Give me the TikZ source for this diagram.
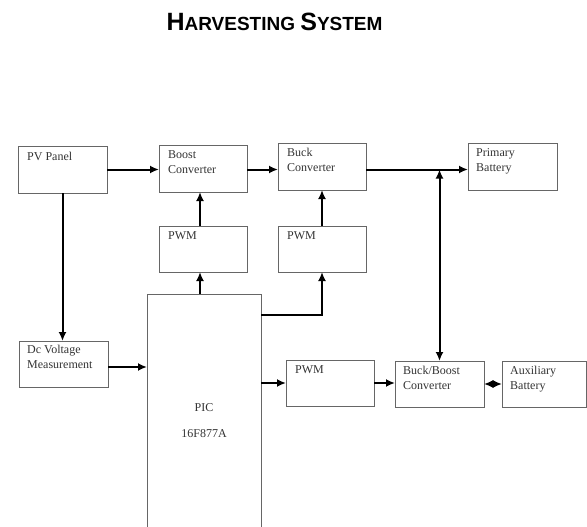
\documentclass[tikz,border=0pt]{standalone}
\usepackage{fontspec}
\setmainfont{Liberation Serif}
\newfontfamily\titlefont{Liberation Sans}
\usetikzlibrary{arrows.meta}
\definecolor{boxgray}{HTML}{666666}
\tikzset{
  blk/.style={draw=boxgray, line width=1pt, rectangle, anchor=north west, inner sep=0pt, outer sep=0pt},
  lbl/.style={anchor=north west, inner sep=0pt, align=left, font=\fontsize{12}{15}\selectfont, text=black!80},
  conn/.style={line width=2pt, -{Latex[length=9pt,width=8pt]}},
  conn2/.style={line width=2pt, {Latex[length=9pt,width=8pt]}-{Latex[length=9pt,width=8pt]}},
}
\begin{document}
\begin{tikzpicture}[x=1pt,y=-1pt]
\useasboundingbox (0,0) rectangle (587,527);
\clip (0,0) rectangle (587,527);
% title
\node[anchor=base, inner sep=0pt, font=\titlefont\bfseries] (title) at (274.5,31)
  {\fontsize{25}{25}\selectfont H\fontsize{19}{19}\selectfont ARVESTING \fontsize{25}{25}\selectfont S\fontsize{19}{19}\selectfont YSTEM};
% boxes
\node[blk, minimum width=89pt, minimum height=47pt] (pv) at (18,146) {};
\node[lbl] (pvl) at ([xshift=9pt,yshift=-6pt]pv.north west) {PV Panel};
\node[blk, minimum width=88pt, minimum height=47pt] (boost) at (159,145) {};
\node[lbl] (boostl) at ([xshift=9pt,yshift=-5pt]boost.north west) {Boost\\Converter};
\node[blk, minimum width=88pt, minimum height=47pt] (buck) at (278,143) {};
\node[lbl] (buckl) at ([xshift=9pt,yshift=-5pt]buck.north west) {Buck\\Converter};
\node[blk, minimum width=89pt, minimum height=47pt] (pb) at (468,143) {};
\node[lbl] (pbl) at ([xshift=8pt,yshift=-5pt]pb.north west) {Primary\\Battery};
\node[blk, minimum width=88pt, minimum height=46pt] (pwma) at (159,226) {};
\node[lbl] (pwmal) at ([xshift=9pt,yshift=-5pt]pwma.north west) {PWM};
\node[blk, minimum width=88pt, minimum height=46pt] (pwmb) at (278,226) {};
\node[lbl] (pwmbl) at ([xshift=9pt,yshift=-5pt]pwmb.north west) {PWM};
\node[blk, minimum width=114pt, minimum height=250pt] (pic) at (147,294) {};
\node[anchor=base, inner sep=0pt, font=\fontsize{12}{15}\selectfont, text=black!80] (picl1) at (204,411) {PIC};
\node[anchor=base, inner sep=0pt, font=\fontsize{12}{15}\selectfont, text=black!80] (picl2) at (204,437) {16F877A};
\node[blk, minimum width=89pt, minimum height=46pt] (dc) at (19,341) {};
\node[lbl] (dcl) at ([xshift=8pt,yshift=-4pt]dc.north west) {Dc Voltage\\Measurement};
\node[blk, minimum width=88pt, minimum height=46pt] (pwmc) at (286,360) {};
\node[lbl] (pwmcl) at ([xshift=9pt,yshift=-5pt]pwmc.north west) {PWM};
\node[blk, minimum width=89pt, minimum height=46pt] (bb) at (395,361) {};
\node[lbl] (bbl) at ([xshift=8pt,yshift=-5pt]bb.north west) {Buck/Boost\\Converter};
\node[blk, minimum width=84pt, minimum height=46pt] (aux) at (502,361) {};
\node[lbl] (auxl) at ([xshift=8pt,yshift=-5pt]aux.north west) {Auxiliary\\Battery};
% connectors
\coordinate (jn) at ([yshift=-3pt]buck.east -| bb.north);
\draw[conn] (pv.east) -- (pv.east -| boost.west);
\draw[conn] ([yshift=-1pt]boost.east) -- ([yshift=-1pt]boost.east -| buck.west);
\draw[conn] ([yshift=-3pt]buck.east) -- ([yshift=-3pt]buck.east -| pb.west);
\draw[conn2] (bb.north) -- (jn);
\draw[conn] ([xshift=-3pt]pwma.north) -- ([xshift=-3pt]pwma.north |- boost.south);
\draw[conn] ([xshift=-3pt]pwma.south |- pic.north) -- ([xshift=-3pt]pwma.south);
\draw[conn] (pwmb.north) -- (pwmb.north |- buck.south);
\draw[conn] ([yshift=-21pt]pic.north east) -| (pwmb.south);
\draw[conn] (pv.south) -- (pv.south |- dc.north);
\draw[conn] ([yshift=-3pt]dc.east) -- ([yshift=-3pt]dc.east -| pic.west);
\draw[conn] (pwmc.west -| pic.east) -- (pwmc.west);
\draw[conn] (pwmc.east) -- (pwmc.east -| bb.west);
\draw[conn2] (bb.east) -- (aux.west);
\end{tikzpicture}
\end{document}
